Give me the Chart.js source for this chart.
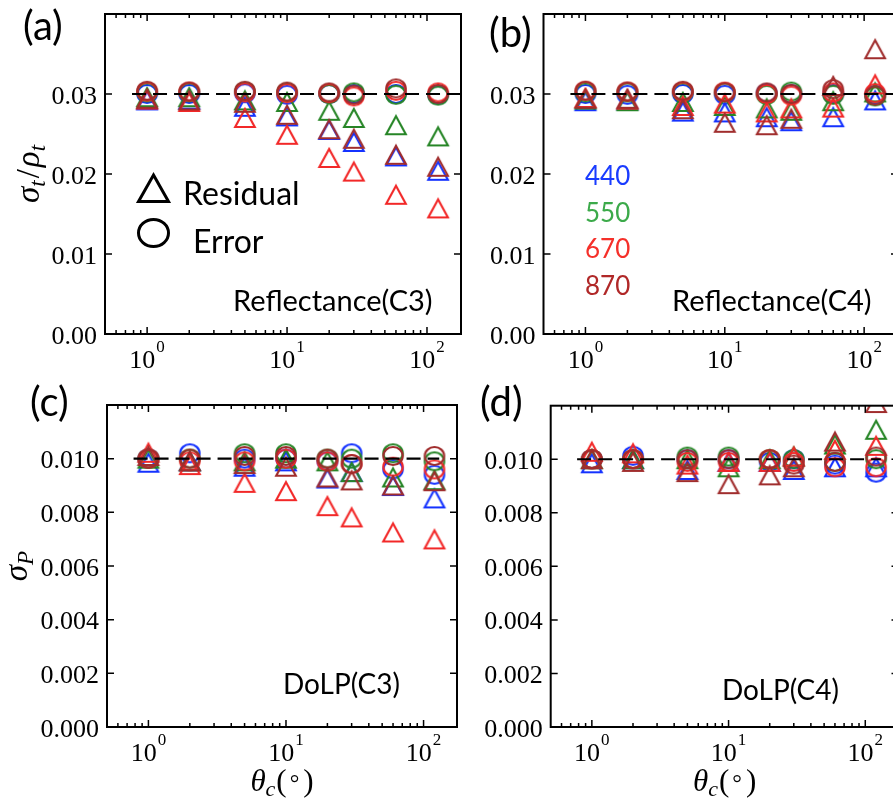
<!DOCTYPE html>
<html>
<head>
<meta charset="utf-8">
<script src="https://cdn.jsdelivr.net/npm/chart.js@4.4.1/dist/chart.umd.min.js"></script>
<style>
  html, body { margin: 0; padding: 0; background: #fff; overflow: hidden; }
  #fig { position: relative; width: 893px; height: 803px; overflow: hidden; background: #fff; }
  #fig canvas { position: absolute; left: 0; top: 0; }
</style>
</head>
<body>
<div id="fig">
  <canvas id="panelA" width="920" height="803"></canvas>
  <canvas id="panelB" width="920" height="803"></canvas>
  <canvas id="panelC" width="920" height="803"></canvas>
  <canvas id="panelD" width="920" height="803"></canvas>
</div>
<script>
// viewing cone angle (deg)
const thetaC = [1, 2, 5, 10, 20, 30, 60, 120];
const wavelengths = ['440', '550', '670', '870'];

// (a) Reflectance C3
const reflC3Res440 = [0.0292, 0.0293, 0.0284, 0.0272, 0.0255, 0.0240, 0.0222, 0.0204];
const reflC3Res550 = [0.0296, 0.0296, 0.0292, 0.0290, 0.0279, 0.0270, 0.0261, 0.0247];
const reflC3Res670 = [0.0293, 0.0290, 0.0270, 0.0249, 0.0220, 0.0203, 0.0174, 0.0157];
const reflC3Res870 = [0.0294, 0.0292, 0.0289, 0.0274, 0.0256, 0.0244, 0.0224, 0.0209];
const reflC3Err440 = [0.0300, 0.0300, 0.0301, 0.0299, 0.0300, 0.0300, 0.0300, 0.0299];
const reflC3Err550 = [0.0302, 0.0302, 0.0303, 0.0302, 0.0300, 0.0302, 0.0299, 0.0298];
const reflC3Err670 = [0.0303, 0.0303, 0.0302, 0.0301, 0.0301, 0.0297, 0.0304, 0.0302];
const reflC3Err870 = [0.0304, 0.0303, 0.0304, 0.0303, 0.0302, 0.0299, 0.0307, 0.0300];

// (b) Reflectance C4
const reflC4Res440 = [0.0291, 0.0292, 0.0278, 0.0277, 0.0271, 0.0266, 0.0271, 0.0292];
const reflC4Res550 = [0.0293, 0.0291, 0.0290, 0.0285, 0.0282, 0.0279, 0.0291, 0.0302];
const reflC4Res670 = [0.0295, 0.0293, 0.0285, 0.0288, 0.0277, 0.0282, 0.0283, 0.0312];
const reflC4Res870 = [0.0294, 0.0294, 0.0281, 0.0264, 0.0261, 0.0269, 0.0310, 0.0356];
const reflC4Err440 = [0.0300, 0.0299, 0.0300, 0.0299, 0.0301, 0.0300, 0.0300, 0.0299];
const reflC4Err550 = [0.0302, 0.0302, 0.0302, 0.0302, 0.0299, 0.0303, 0.0299, 0.0297];
const reflC4Err670 = [0.0304, 0.0303, 0.0303, 0.0303, 0.0300, 0.0298, 0.0302, 0.0301];
const reflC4Err870 = [0.0304, 0.0303, 0.0304, 0.0302, 0.0302, 0.0300, 0.0306, 0.0298];

// (c) DoLP C3
const dolpC3Res440 = [0.00985, 0.0099, 0.0097, 0.0099, 0.00926, 0.0095, 0.00898, 0.00852];
const dolpC3Res550 = [0.0100, 0.0099, 0.0099, 0.0100, 0.0099, 0.0095, 0.0093, 0.0092];
const dolpC3Res670 = [0.01022, 0.00976, 0.0091, 0.00879, 0.00823, 0.00781, 0.00725, 0.00699];
const dolpC3Res870 = [0.0101, 0.0099, 0.0098, 0.0097, 0.0093, 0.00919, 0.0090, 0.00916];
const dolpC3Err440 = [0.0100, 0.0102, 0.0100, 0.0100, 0.0099, 0.0102, 0.0096, 0.0094];
const dolpC3Err550 = [0.0100, 0.0100, 0.0102, 0.0102, 0.0100, 0.0100, 0.0102, 0.0099];
const dolpC3Err670 = [0.0100, 0.0099, 0.0099, 0.0100, 0.0099, 0.0098, 0.0097, 0.0096];
const dolpC3Err870 = [0.0100, 0.0100, 0.0101, 0.0101, 0.0100, 0.0098, 0.0101, 0.0101];

// (d) DoLP C4
const dolpC4Res440 = [0.00985, 0.0100, 0.0096, 0.0099, 0.0099, 0.0096, 0.0097, 0.0097];
const dolpC4Res550 = [0.0100, 0.0100, 0.0100, 0.0097, 0.0100, 0.0101, 0.01055, 0.0111];
const dolpC4Res670 = [0.01028, 0.01022, 0.0098, 0.0099, 0.0099, 0.0101, 0.01035, 0.0105];
const dolpC4Res870 = [0.0100, 0.0099, 0.00952, 0.00907, 0.0094, 0.0097, 0.01066, 0.0121];
const dolpC4Err440 = [0.0100, 0.01013, 0.0100, 0.0100, 0.0099, 0.0100, 0.0098, 0.0095];
const dolpC4Err550 = [0.0100, 0.0100, 0.0101, 0.0101, 0.0100, 0.0100, 0.0099, 0.0100];
const dolpC4Err670 = [0.0100, 0.0100, 0.0099, 0.0099, 0.0100, 0.0099, 0.0097, 0.0097];
const dolpC4Err870 = [0.0100, 0.0100, 0.0100, 0.0100, 0.0100, 0.0098, 0.0099, 0.0101];

// reference (target) levels and the x span of the dashed line
const reflTarget = 0.03;
const dolpTarget = 0.010;
const reflRefX = [0.78, 200];
const dolpRefX = [0.78, 130];

// axis ticks
const xMajorTicks = [1, 10, 100];
const xTickExps = ['0', '1', '2'];
const xMinorTicks = [0.6, 0.7, 0.8, 0.9, 2, 3, 4, 5, 6, 7, 8, 9, 20, 30, 40, 50, 60, 70, 80, 90];
const reflTicks = [0, 0.01, 0.02, 0.03];
const reflTickLabels = ['0.00', '0.01', '0.02', '0.03'];
const dolpTicks = [0, 0.002, 0.004, 0.006, 0.008, 0.010];
const dolpTickLabels = ['0.000', '0.002', '0.004', '0.006', '0.008', '0.010'];

const CW = 920, CH = 803;
const markerColors = ['#1432ff', '#268526', '#f22828', '#a02d2d'];
const textColors = ['#1a3cff', '#3caa4a', '#f5302a', '#b02828'];
const SERIF = '"Liberation Serif"';

function makeMarker(shape, color) {
  const c = document.createElement('canvas');
  c.width = 26; c.height = 26;
  const g = c.getContext('2d');
  g.strokeStyle = color;
  g.lineWidth = 2.1;
  g.beginPath();
  if (shape === 'circle') {
    g.ellipse(13, 13, 9.7, 9, 0, 0, Math.PI * 2);
  } else {
    g.moveTo(13, 4);
    g.lineTo(22.8, 22);
    g.lineTo(3.2, 22);
    g.closePath();
  }
  g.stroke();
  return c;
}
const triMarkers = markerColors.map(c => makeMarker('triangle', c));
const circMarkers = markerColors.map(c => makeMarker('circle', c));

function toPoints(ys) {
  return thetaC.map((x, i) => ({ x: x, y: ys[i] }));
}

function drawRun(ctx, parts, x, y, align) {
  let total = 0;
  parts.forEach(p => {
    ctx.font = p.font;
    p.w = ctx.measureText(p.t).width + (p.gap || 0);
    total += p.w;
  });
  let cx = align === 'center' ? x - total / 2 : x;
  parts.forEach(p => {
    ctx.font = p.font;
    ctx.fillText(p.t, cx, y + (p.dy || 0));
    cx += p.w;
  });
}

const yLabelRefl = [
  { t: 'σ', font: 'italic 33px ' + SERIF },
  { t: 't', font: 'italic 23px ' + SERIF, dy: 6, gap: 2 },
  { t: '/', font: '33px ' + SERIF, gap: 2 },
  { t: 'ρ', font: 'italic 33px ' + SERIF },
  { t: 't', font: 'italic 23px ' + SERIF, dy: 6 }
];
const yLabelDolp = [
  { t: 'σ', font: 'italic 33px ' + SERIF },
  { t: 'P', font: 'italic 23px ' + SERIF, dy: 6 }
];
const xLabel = [
  { t: 'θ', font: 'italic 31px ' + SERIF },
  { t: 'c', font: 'italic 22px ' + SERIF, dy: 5, gap: 1 },
  { t: '(', font: '31px ' + SERIF, gap: 3 },
  { t: '°', font: '24px ' + SERIF, gap: 4 },
  { t: ')', font: '31px ' + SERIF }
];

function decoPlugin(cfg) {
  return {
    id: 'deco' + cfg.name,
    afterDraw(chart) {
      const ctx = chart.ctx;
      const xs = chart.scales.x, ys = chart.scales.y;
      const a = chart.chartArea;
      ctx.save();
      ctx.strokeStyle = '#000';
      ctx.fillStyle = '#000';

      // inward ticks on all four sides
      ctx.lineWidth = 1.5;
      ctx.beginPath();
      xMajorTicks.concat(xMinorTicks).forEach(v => {
        const px = xs.getPixelForValue(v);
        const len = xMajorTicks.includes(v) ? 7 : 4;
        ctx.moveTo(px, a.bottom); ctx.lineTo(px, a.bottom - len);
        ctx.moveTo(px, a.top); ctx.lineTo(px, a.top + len);
      });
      cfg.yTicks.forEach(v => {
        const py = ys.getPixelForValue(v);
        ctx.moveTo(a.left, py); ctx.lineTo(a.left + 7, py);
        ctx.moveTo(a.right, py); ctx.lineTo(a.right - 7, py);
      });
      ctx.stroke();

      // frame
      ctx.lineWidth = 2;
      ctx.strokeRect(a.left, a.top, a.right - a.left, a.bottom - a.top);

      // y tick labels
      ctx.font = '26px ' + SERIF;
      ctx.textAlign = 'right';
      ctx.textBaseline = 'alphabetic';
      cfg.yTicks.forEach((v, i) => {
        ctx.fillText(cfg.yTickLabels[i], a.left - 8, ys.getPixelForValue(v) + 9.5);
      });

      // x tick labels 10^n
      ctx.textAlign = 'left';
      xMajorTicks.forEach((v, i) => {
        const px = xs.getPixelForValue(v);
        ctx.font = '26px ' + SERIF;
        const w1 = ctx.measureText('10').width;
        ctx.font = '17px ' + SERIF;
        const w2 = ctx.measureText(xTickExps[i]).width;
        const x0 = px - (w1 + w2 + 1) / 2;
        ctx.font = '26px ' + SERIF;
        ctx.fillText('10', x0, a.bottom + 34);
        ctx.font = '17px ' + SERIF;
        ctx.fillText(xTickExps[i], x0 + w1 + 1, a.bottom + 18);
      });

      // axis titles
      if (cfg.yLabel) {
        ctx.save();
        ctx.translate(cfg.yLabelX, (a.top + a.bottom) / 2);
        ctx.rotate(-Math.PI / 2);
        drawRun(ctx, cfg.yLabel, 0, 0, 'center');
        ctx.restore();
      }
      if (cfg.showXLabel) {
        drawRun(ctx, xLabel, (a.left + a.right) / 2, 791, 'center');
      }

      // panel letter and annotation
      ctx.font = '40px Lato';
      ctx.fillText(cfg.letter, cfg.letterPos[0], cfg.letterPos[1]);
      ctx.font = cfg.noteSize + 'px Lato';
      ctx.fillText(cfg.note, cfg.notePos[0], cfg.notePos[1]);

      if (cfg.symbolKey) {
        ctx.lineWidth = 3;
        ctx.beginPath();
        ctx.moveTo(153.5, 175);
        ctx.lineTo(168.5, 201.5);
        ctx.lineTo(138.5, 201.5);
        ctx.closePath();
        ctx.stroke();
        ctx.beginPath();
        ctx.ellipse(153.5, 233, 15, 13.5, 0, 0, Math.PI * 2);
        ctx.stroke();
        ctx.font = '32px Lato';
        ctx.fillText('Residual', 183, 205);
        ctx.fillText('Error', 193, 253);
      }
      if (cfg.colorKey) {
        ctx.font = '26px Lato';
        const bases = [185, 222, 258, 295];
        wavelengths.forEach((w, i) => {
          ctx.fillStyle = textColors[i];
          ctx.fillText(w, 585, bases[i]);
        });
      }
      ctx.restore();
    }
  };
}

function makePanel(canvasId, cfg) {
  const datasets = [];
  wavelengths.forEach((w, i) => {
    datasets.push({
      label: w + ' residual',
      data: toPoints(cfg.res[i]),
      pointStyle: triMarkers[i],
      pointRadius: 10
    });
    datasets.push({
      label: w + ' error',
      data: toPoints(cfg.err[i]),
      pointStyle: circMarkers[i],
      pointRadius: 10
    });
  });
  datasets.push({
    label: 'target',
    data: cfg.refX.map(x => ({ x: x, y: cfg.target })),
    showLine: true,
    borderColor: '#000',
    borderWidth: 2.2,
    borderDash: [14, 7],
    pointRadius: 0
  });
  // later datasets are drawn on top
  datasets.forEach((d, k) => { d.order = datasets.length - k; });

  new Chart(document.getElementById(canvasId), {
    type: 'scatter',
    data: { datasets },
    options: {
      responsive: false,
      animation: false,
      devicePixelRatio: 1,
      events: [],
      layout: {
        padding: { left: cfg.area.l, top: cfg.area.t, right: CW - cfg.area.r, bottom: CH - cfg.area.b }
      },
      plugins: { legend: { display: false }, tooltip: { enabled: false } },
      scales: {
        x: { type: 'logarithmic', min: 0.5, max: 175, display: false },
        y: { type: 'linear', min: 0, max: cfg.yMax, display: false }
      }
    },
    plugins: [decoPlugin(cfg)]
  });
}

makePanel('panelA', {
  name: 'A', area: { l: 105, t: 14, r: 461, b: 334 }, yMax: 0.04,
  res: [reflC3Res440, reflC3Res550, reflC3Res670, reflC3Res870],
  err: [reflC3Err440, reflC3Err550, reflC3Err670, reflC3Err870],
  target: reflTarget, refX: reflRefX,
  yTicks: reflTicks, yTickLabels: reflTickLabels,
  yLabel: yLabelRefl, yLabelX: 39, showXLabel: false,
  letter: '(a)', letterPos: [23, 40],
  note: 'Reflectance(C3)', notePos: [233, 311], noteSize: 29,
  symbolKey: true
});

makePanel('panelB', {
  name: 'B', area: { l: 543.5, t: 14, r: 898, b: 334 }, yMax: 0.04,
  res: [reflC4Res440, reflC4Res550, reflC4Res670, reflC4Res870],
  err: [reflC4Err440, reflC4Err550, reflC4Err670, reflC4Err870],
  target: reflTarget, refX: reflRefX,
  yTicks: reflTicks, yTickLabels: reflTickLabels,
  yLabel: null, showXLabel: false,
  letter: '(b)', letterPos: [489, 47],
  note: 'Reflectance(C4)', notePos: [672, 311], noteSize: 29,
  colorKey: true
});

makePanel('panelC', {
  name: 'C', area: { l: 107, t: 405, r: 457, b: 727 }, yMax: 0.012,
  res: [dolpC3Res440, dolpC3Res550, dolpC3Res670, dolpC3Res870],
  err: [dolpC3Err440, dolpC3Err550, dolpC3Err670, dolpC3Err870],
  target: dolpTarget, refX: dolpRefX,
  yTicks: dolpTicks, yTickLabels: dolpTickLabels,
  yLabel: yLabelDolp, yLabelX: 27, showXLabel: true,
  letter: '(c)', letterPos: [30, 416],
  note: 'DoLP(C3)', notePos: [283, 694], noteSize: 28
});

makePanel('panelD', {
  name: 'D', area: { l: 550.7, t: 405.7, r: 898.5, b: 727 }, yMax: 0.012,
  res: [dolpC4Res440, dolpC4Res550, dolpC4Res670, dolpC4Res870],
  err: [dolpC4Err440, dolpC4Err550, dolpC4Err670, dolpC4Err870],
  target: dolpTarget, refX: dolpRefX,
  yTicks: dolpTicks, yTickLabels: dolpTickLabels,
  yLabel: null, showXLabel: true,
  letter: '(d)', letterPos: [480, 416],
  note: 'DoLP(C4)', notePos: [722, 700], noteSize: 28
});
</script>
</body>
</html>
